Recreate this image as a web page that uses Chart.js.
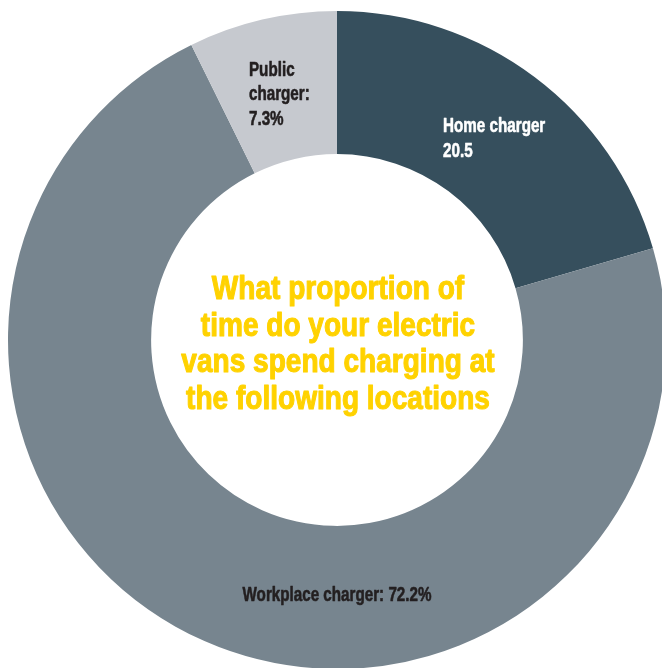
<!DOCTYPE html>
<html>
<head>
<meta charset="utf-8">
<script src="https://cdn.jsdelivr.net/npm/chart.js@4"></script>
<style>
    html, body { margin: 0; padding: 0; background: #ffffff; overflow: hidden; }
    body { width: 662px; height: 668px; position: relative; }
    #wrap { position: absolute; left: 8px; top: 11px; width: 658px; height: 658px; }
</style>
</head>
<body>
<div id="wrap"><canvas id="chargingChart"></canvas></div>
<script>
// Share of charging time per location (%)
const locations = ['Home charger', 'Workplace charger', 'Public charger'];
const shares = [20.5, 72.2, 7.3];
const sliceColours = ['#364f5d', '#77858f', '#c6c9cf'];

// Label text for each slice, one entry per line
const sliceLabels = [
    ['Home charger', '20.5'],
    ['Workplace charger: 72.2%'],
    ['Public', 'charger:', '7.3%']
];
const labelColours = ['#ffffff', '#231f20', '#231f20'];

const centreTitle = [
    'What proportion of',
    'time do your electric',
    'vans spend charging at',
    'the following locations'
];

const FONT = '"Liberation Sans", Arial, sans-serif';

// Draw a line of text squeezed horizontally to mimic a condensed face,
// with a thin outline in the same colour to make the strokes heavier
function drawCondensed(ctx, text, x, y, squeeze, align, weight) {
    const w = ctx.measureText(text).width * squeeze;
    let left = x;
    if (align === 'center') left = x - w / 2;
    ctx.save();
    ctx.translate(left, y);
    ctx.scale(squeeze, 1);
    ctx.textAlign = 'left';
    ctx.fillText(text, 0, 0);
    if (weight) {
        ctx.strokeStyle = ctx.fillStyle;
        ctx.lineWidth = weight;
        ctx.lineJoin = 'round';
        ctx.strokeText(text, 0, 0);
    }
    ctx.restore();
    return w;
}

// Labels inside each ring slice plus the title in the hole
const ringText = {
    id: 'ringText',
    afterDatasetsDraw(chart, args, opts) {
        const ctx = chart.ctx;
        const arcs = chart.getDatasetMeta(0).data;
        ctx.save();
        ctx.textBaseline = 'alphabetic';

        // slice labels
        ctx.font = 'bold 20px ' + FONT;
        const capH = 14.5, lineH = 24.5, sq = 0.76;
        arcs.forEach((arc, i) => {
            const p = arc.getProps(['x', 'y', 'startAngle', 'endAngle', 'innerRadius', 'outerRadius'], true);
            const angle = opts.angles[i] !== null ? opts.angles[i] : (p.startAngle + p.endAngle) / 2;
            const r = (p.innerRadius + p.outerRadius) / 2 - 4;
            const cx = p.x + r * Math.cos(angle) + opts.nudge[i];
            const cy = p.y + r * Math.sin(angle);
            const lines = sliceLabels[i];
            const blockW = Math.max(...lines.map(t => ctx.measureText(t).width * sq));
            const blockH = capH + (lines.length - 1) * lineH;
            let y = cy - blockH / 2 + capH;
            ctx.fillStyle = labelColours[i];
            lines.forEach(t => {
                drawCondensed(ctx, t, cx - blockW / 2, y, sq, 'left', 0.6);
                y += lineH;
            });
        });

        // centre title
        const c = arcs[0].getProps(['x', 'y'], true);
        ctx.font = 'bold 33px ' + FONT;
        ctx.fillStyle = '#ffd200';
        const tCap = 24, tLine = 36.5;
        const tH = tCap + (centreTitle.length - 1) * tLine;
        let ty = c.y + 2 - tH / 2 + tCap;
        centreTitle.forEach(t => {
            drawCondensed(ctx, t, c.x + 1, ty, 0.85, 'center', 1.1);
            ty += tLine;
        });
        ctx.restore();
    }
};

const chargingChart = new Chart(document.getElementById('chargingChart').getContext('2d'), {
    type: 'doughnut',
    data: {
        labels: locations,
        datasets: [{
            data: shares,
            backgroundColor: sliceColours,
            borderWidth: 0,
            hoverOffset: 0,
            offset: 0
        }]
    },
    options: {
        responsive: true,
        maintainAspectRatio: false,
        animation: false,
        cutout: '56.5%',
        rotation: 0,
        layout: { padding: 0 },
        plugins: {
            legend: { display: false },
            tooltip: { enabled: false },
            ringText: {
                angles: [null, Math.PI / 2, null],
                nudge: [5, 0, 0]
            }
        }
    },
    plugins: [ringText]
});
</script>
</body>
</html>
